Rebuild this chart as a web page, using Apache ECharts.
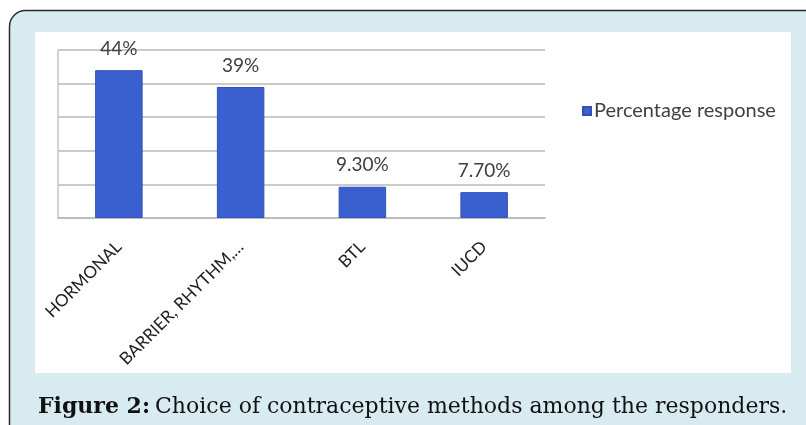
<!DOCTYPE html>
<html>
<head>
<meta charset="utf-8">
<script src="https://cdn.jsdelivr.net/npm/echarts@6/dist/echarts.min.js"></script>
<style>
  html, body { margin: 0; padding: 0; background: #ffffff; }
  #chart { width: 806px; height: 425px; }
</style>
</head>
<body>
<div id="chart"></div>
<script>
// Contraceptive method categories and the share of responders choosing each
const categories = ['HORMONAL', 'BARRIER, RHYTHM,…', 'BTL', 'IUCD'];
const percentages = [44, 39, 9.3, 7.7];
const seriesName = 'Percentage response';
const yTicks = { min: 0, max: 50, interval: 10 };

const chart = echarts.init(document.getElementById('chart'), null, { renderer: 'canvas' });

const labelFont = 'Lato, "Open Sans", sans-serif';
const captionFont = '"DejaVu Serif", serif';

chart.setOption({
  backgroundColor: '#ffffff',
  animation: false,
  graphic: [
    // rounded light-blue frame
    { type: 'rect', z: -10, shape: { x: 9.5, y: 10.5, width: 830, height: 440, r: 16 },
      style: { fill: '#d7ebf1', stroke: '#2b2b2b', lineWidth: 1.5 } },
    // white chart panel
    { type: 'rect', z: -9, shape: { x: 35, y: 32, width: 756, height: 341 },
      style: { fill: '#ffffff' } }
  ],
  title: {
    left: 38, top: 396, padding: 0,
    text: '{b|Figure 2:} {n|Choice of contraceptive methods among the responders.}',
    textStyle: {
      fontWeight: 'normal',
      rich: {
        b: { fontFamily: captionFont, fontWeight: 'bold', fontSize: 22, color: '#111111' },
        n: { fontFamily: captionFont, fontWeight: 'normal', fontSize: 22, color: '#111111' }
      }
    }
  },
  legend: {
    show: true,
    left: 582, top: 101, padding: 0,
    itemWidth: 8, itemHeight: 8, itemGap: 6,
    icon: 'rect',
    textStyle: { fontFamily: labelFont, fontSize: 20, color: '#404040', padding: [0, 0, 0, -2] },
    data: [seriesName]
  },
  grid: { left: 58, right: 261, top: 50, bottom: 207, containLabel: false },
  xAxis: {
    type: 'category',
    data: categories,
    axisLine: { show: true, lineStyle: { color: '#b8b8b8', width: 1.5 } },
    axisTick: { show: false },
    axisLabel: {
      rotate: 45, margin: 26, interval: 0,
      fontFamily: labelFont, fontSize: 17, color: '#1e1e1e'
    }
  },
  yAxis: {
    type: 'value',
    min: yTicks.min, max: yTicks.max, interval: yTicks.interval,
    axisLine: { show: true, lineStyle: { color: '#c4c4c4', width: 1.5 } },
    axisTick: { show: false },
    axisLabel: { show: false },
    splitLine: { show: true, lineStyle: { color: '#b8b8b8', width: 1.5 } }
  },
  series: [{
    name: seriesName,
    type: 'bar',
    data: percentages,
    barWidth: '39%',
    itemStyle: { color: '#3a60cf', borderColor: '#3050b8', borderWidth: 1 },
    label: {
      show: true, position: 'top', distance: 12,
      fontFamily: labelFont, fontSize: 19, color: '#404040',
      formatter: p => (Number.isInteger(p.value) ? p.value : p.value.toFixed(2)) + '%'
    }
  }]
});
</script>
</body>
</html>
